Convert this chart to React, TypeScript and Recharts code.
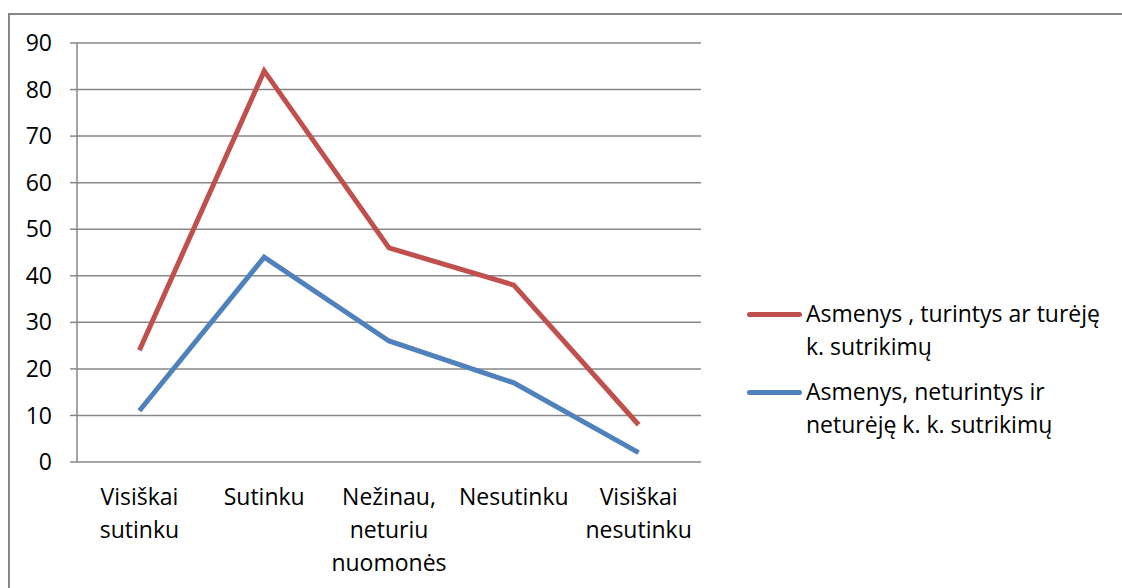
import React from 'react'
import { LineChart, Line, XAxis, YAxis, CartesianGrid, Legend } from 'recharts'

const categories = ['Visiškai\nsutinku', 'Sutinku', 'Nežinau,\nneturiu\nnuomonės', 'Nesutinku', 'Visiškai\nnesutinku']
const withDisorder = [24, 84, 46, 38, 8]
const withoutDisorder = [11, 44, 26, 17, 2]
const seriesNames = ['Asmenys , turintys ar turėję\nk. sutrikimų', 'Asmenys, neturintys ir\nneturėję k. k. sutrikimų']
const seriesColors = ['#c0504d', '#4f81bd']
const yTicks = [0, 10, 20, 30, 40, 50, 60, 70, 80, 90]
const boundaryTicks = [0, 1, 2, 3, 4, 5]

const data = categories.map((c, i) => ({ cat: c, a: withDisorder[i], b: withoutDisorder[i] }))

const FONT = '"Open Sans", sans-serif'
const FS = 23
const GRID = '#878787'

// multi-line category label under each band
function CatTick({ x, y, payload }: any) {
  const lines = String(payload.value).split('\n')
  return (
    <text x={x} y={y} textAnchor="middle" fill="#000" fontSize={FS} fontFamily={FONT}>
      {lines.map((l, i) => (
        <tspan key={i} x={x} dy={i === 0 ? 43 : 33}>{l}</tspan>
      ))}
    </text>
  )
}

function renderLegend() {
  return (
    <div style={{ fontFamily: FONT, fontSize: FS, color: '#000' }}>
      {seriesNames.map((n, i) => (
        <div key={i} style={{ display: 'flex', alignItems: 'flex-start', marginBottom: 12 }}>
          <div style={{ width: 55, height: 5, borderRadius: 3, background: seriesColors[i], marginTop: 15, marginRight: 4, flex: 'none' }} />
          <div style={{ whiteSpace: 'pre', lineHeight: '33px' }}>{n}</div>
        </div>
      ))}
    </div>
  )
}

export default function App() {
  return (
    <div style={{ position: 'absolute', left: 0, top: 0, width: 1122, height: 588, overflow: 'hidden', background: '#fff' }}>
      <div style={{ position: 'absolute', left: 8, top: 13, width: 1300, height: 800, borderTop: `2px solid ${GRID}`, borderLeft: `2px solid ${GRID}` }} />
      <div style={{ position: 'absolute', left: 0, top: 0 }}>
        <LineChart width={1122} height={588} data={data} margin={{ top: 43, right: 421, bottom: 0, left: 0 }}>
          <CartesianGrid vertical={false} stroke={GRID} strokeWidth={1.5} />
          {/* tick marks between categories */}
          <XAxis
            xAxisId="bounds"
            type="number"
            domain={[0, 5]}
            ticks={boundaryTicks}
            height={0}
            tick={false}
            tickSize={8}
            tickLine={{ stroke: GRID, strokeWidth: 1.5 }}
            axisLine={{ stroke: GRID, strokeWidth: 1.5 }}
          />
          <XAxis
            dataKey="cat"
            scale="band"
            height={126}
            axisLine={false}
            tickLine={false}
            tickSize={0}
            tickMargin={0}
            interval={0}
            tick={<CatTick />}
          />
          <YAxis
            width={77}
            domain={[0, 90]}
            ticks={yTicks}
            interval={0}
            tickSize={7}
            tickMargin={18}
            axisLine={{ stroke: GRID, strokeWidth: 1.5 }}
            tickLine={{ stroke: GRID, strokeWidth: 1.5 }}
            tick={{ fill: '#000', fontSize: FS, fontFamily: FONT }}
          />
          <Line dataKey="a" name={seriesNames[0]} stroke={seriesColors[0]} strokeWidth={5} dot={false} isAnimationActive={false} />
          <Line dataKey="b" name={seriesNames[1]} stroke={seriesColors[1]} strokeWidth={5} dot={false} isAnimationActive={false} />
          <Legend
            layout="horizontal"
            verticalAlign="middle"
            content={renderLegend}
            wrapperStyle={{ left: 747, top: 297, width: 375 }}
          />
        </LineChart>
      </div>
    </div>
  )
}
